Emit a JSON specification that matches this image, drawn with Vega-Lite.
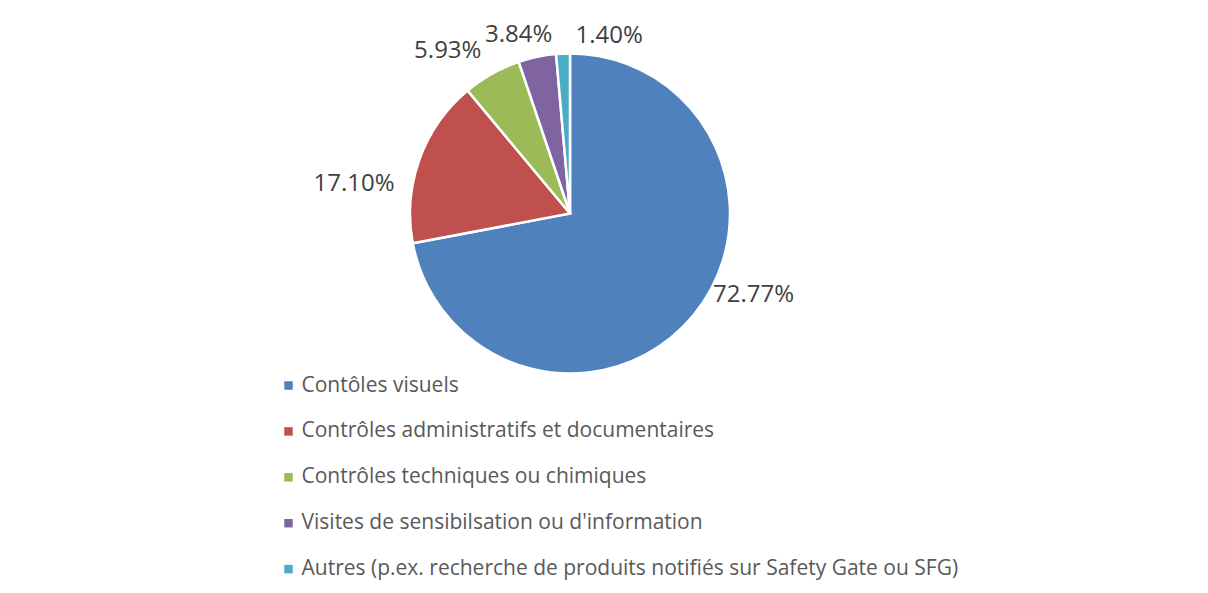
{
  "$schema": "https://vega.github.io/schema/vega-lite/v6.json",
  "autosize": {"type": "none"},
  "width": 340,
  "height": 319,
  "padding": {"left": 400, "top": 54, "right": 468, "bottom": 220},
  "background": "white",
  "config": {"view": {"stroke": null}},
  "data": {
    "values": [
      {"cat": "Contôles visuels", "pct": 72.77, "label": "72.77%", "ord": 1},
      {"cat": "Contrôles administratifs et documentaires", "pct": 17.10, "label": "17.10%", "ord": 2},
      {"cat": "Contrôles techniques ou chimiques", "pct": 5.93, "label": "5.93%", "ord": 3},
      {"cat": "Visites de sensibilsation ou d'information", "pct": 3.84, "label": "3.84%", "ord": 4},
      {"cat": "Autres (p.ex. recherche de produits notifiés sur Safety Gate ou SFG)", "pct": 1.40, "label": "1.40%", "ord": 5}
    ]
  },
  "encoding": {
    "theta": {"field": "pct", "type": "quantitative", "stack": true},
    "order": {"field": "ord", "type": "quantitative"},
    "color": {
      "field": "cat",
      "type": "nominal",
      "sort": ["Contôles visuels", "Contrôles administratifs et documentaires", "Contrôles techniques ou chimiques", "Visites de sensibilsation ou d'information", "Autres (p.ex. recherche de produits notifiés sur Safety Gate ou SFG)"],
      "scale": {
        "domain": ["Contôles visuels", "Contrôles administratifs et documentaires", "Contrôles techniques ou chimiques", "Visites de sensibilsation ou d'information", "Autres (p.ex. recherche de produits notifiés sur Safety Gate ou SFG)"],
        "range": ["#4F81BD", "#C0504D", "#9BBB59", "#8064A2", "#4BACC6"]
      },
      "legend": {
        "title": null,
        "orient": "none",
        "legendX": -122,
        "legendY": 321,
        "direction": "vertical",
        "symbolType": "square",
        "symbolSize": 72,
        "symbolStrokeWidth": 0,
        "symbolOffset": 0,
        "labelFont": "Open Sans",
        "labelFontSize": 21,
        "labelColor": "#595959",
        "labelOffset": 2.5,
        "labelLimit": 800,
        "rowPadding": 23.9
      }
    }
  },
  "layer": [
    {
      "mark": {"type": "arc", "outerRadius": 160, "stroke": "white", "strokeWidth": 2.5}
    },
    {
      "mark": {"type": "text", "radius": 201, "thetaOffset": -0.273, "font": "Open Sans", "fontSize": 24, "fill": "#404040"},
      "encoding": {"text": {"condition": {"test": "datum.ord == 1", "field": "label"}, "value": ""}, "color": {"value": "#404040"}}
    },
    {
      "mark": {"type": "text", "radius": 218, "thetaOffset": -0.207, "font": "Open Sans", "fontSize": 24, "fill": "#404040"},
      "encoding": {"text": {"condition": {"test": "datum.ord == 2", "field": "label"}, "value": ""}, "color": {"value": "#404040"}}
    },
    {
      "mark": {"type": "text", "radius": 203, "thetaOffset": -0.136, "font": "Open Sans", "fontSize": 24, "fill": "#404040"},
      "encoding": {"text": {"condition": {"test": "datum.ord == 3", "field": "label"}, "value": ""}, "color": {"value": "#404040"}}
    },
    {
      "mark": {"type": "text", "radius": 186, "thetaOffset": -0.073, "font": "Open Sans", "fontSize": 24, "fill": "#404040"},
      "encoding": {"text": {"condition": {"test": "datum.ord == 4", "field": "label"}, "value": ""}, "color": {"value": "#404040"}}
    },
    {
      "mark": {"type": "text", "radius": 182, "thetaOffset": 0.26, "font": "Open Sans", "fontSize": 24, "fill": "#404040"},
      "encoding": {"text": {"condition": {"test": "datum.ord == 5", "field": "label"}, "value": ""}, "color": {"value": "#404040"}}
    }
  ]
}
